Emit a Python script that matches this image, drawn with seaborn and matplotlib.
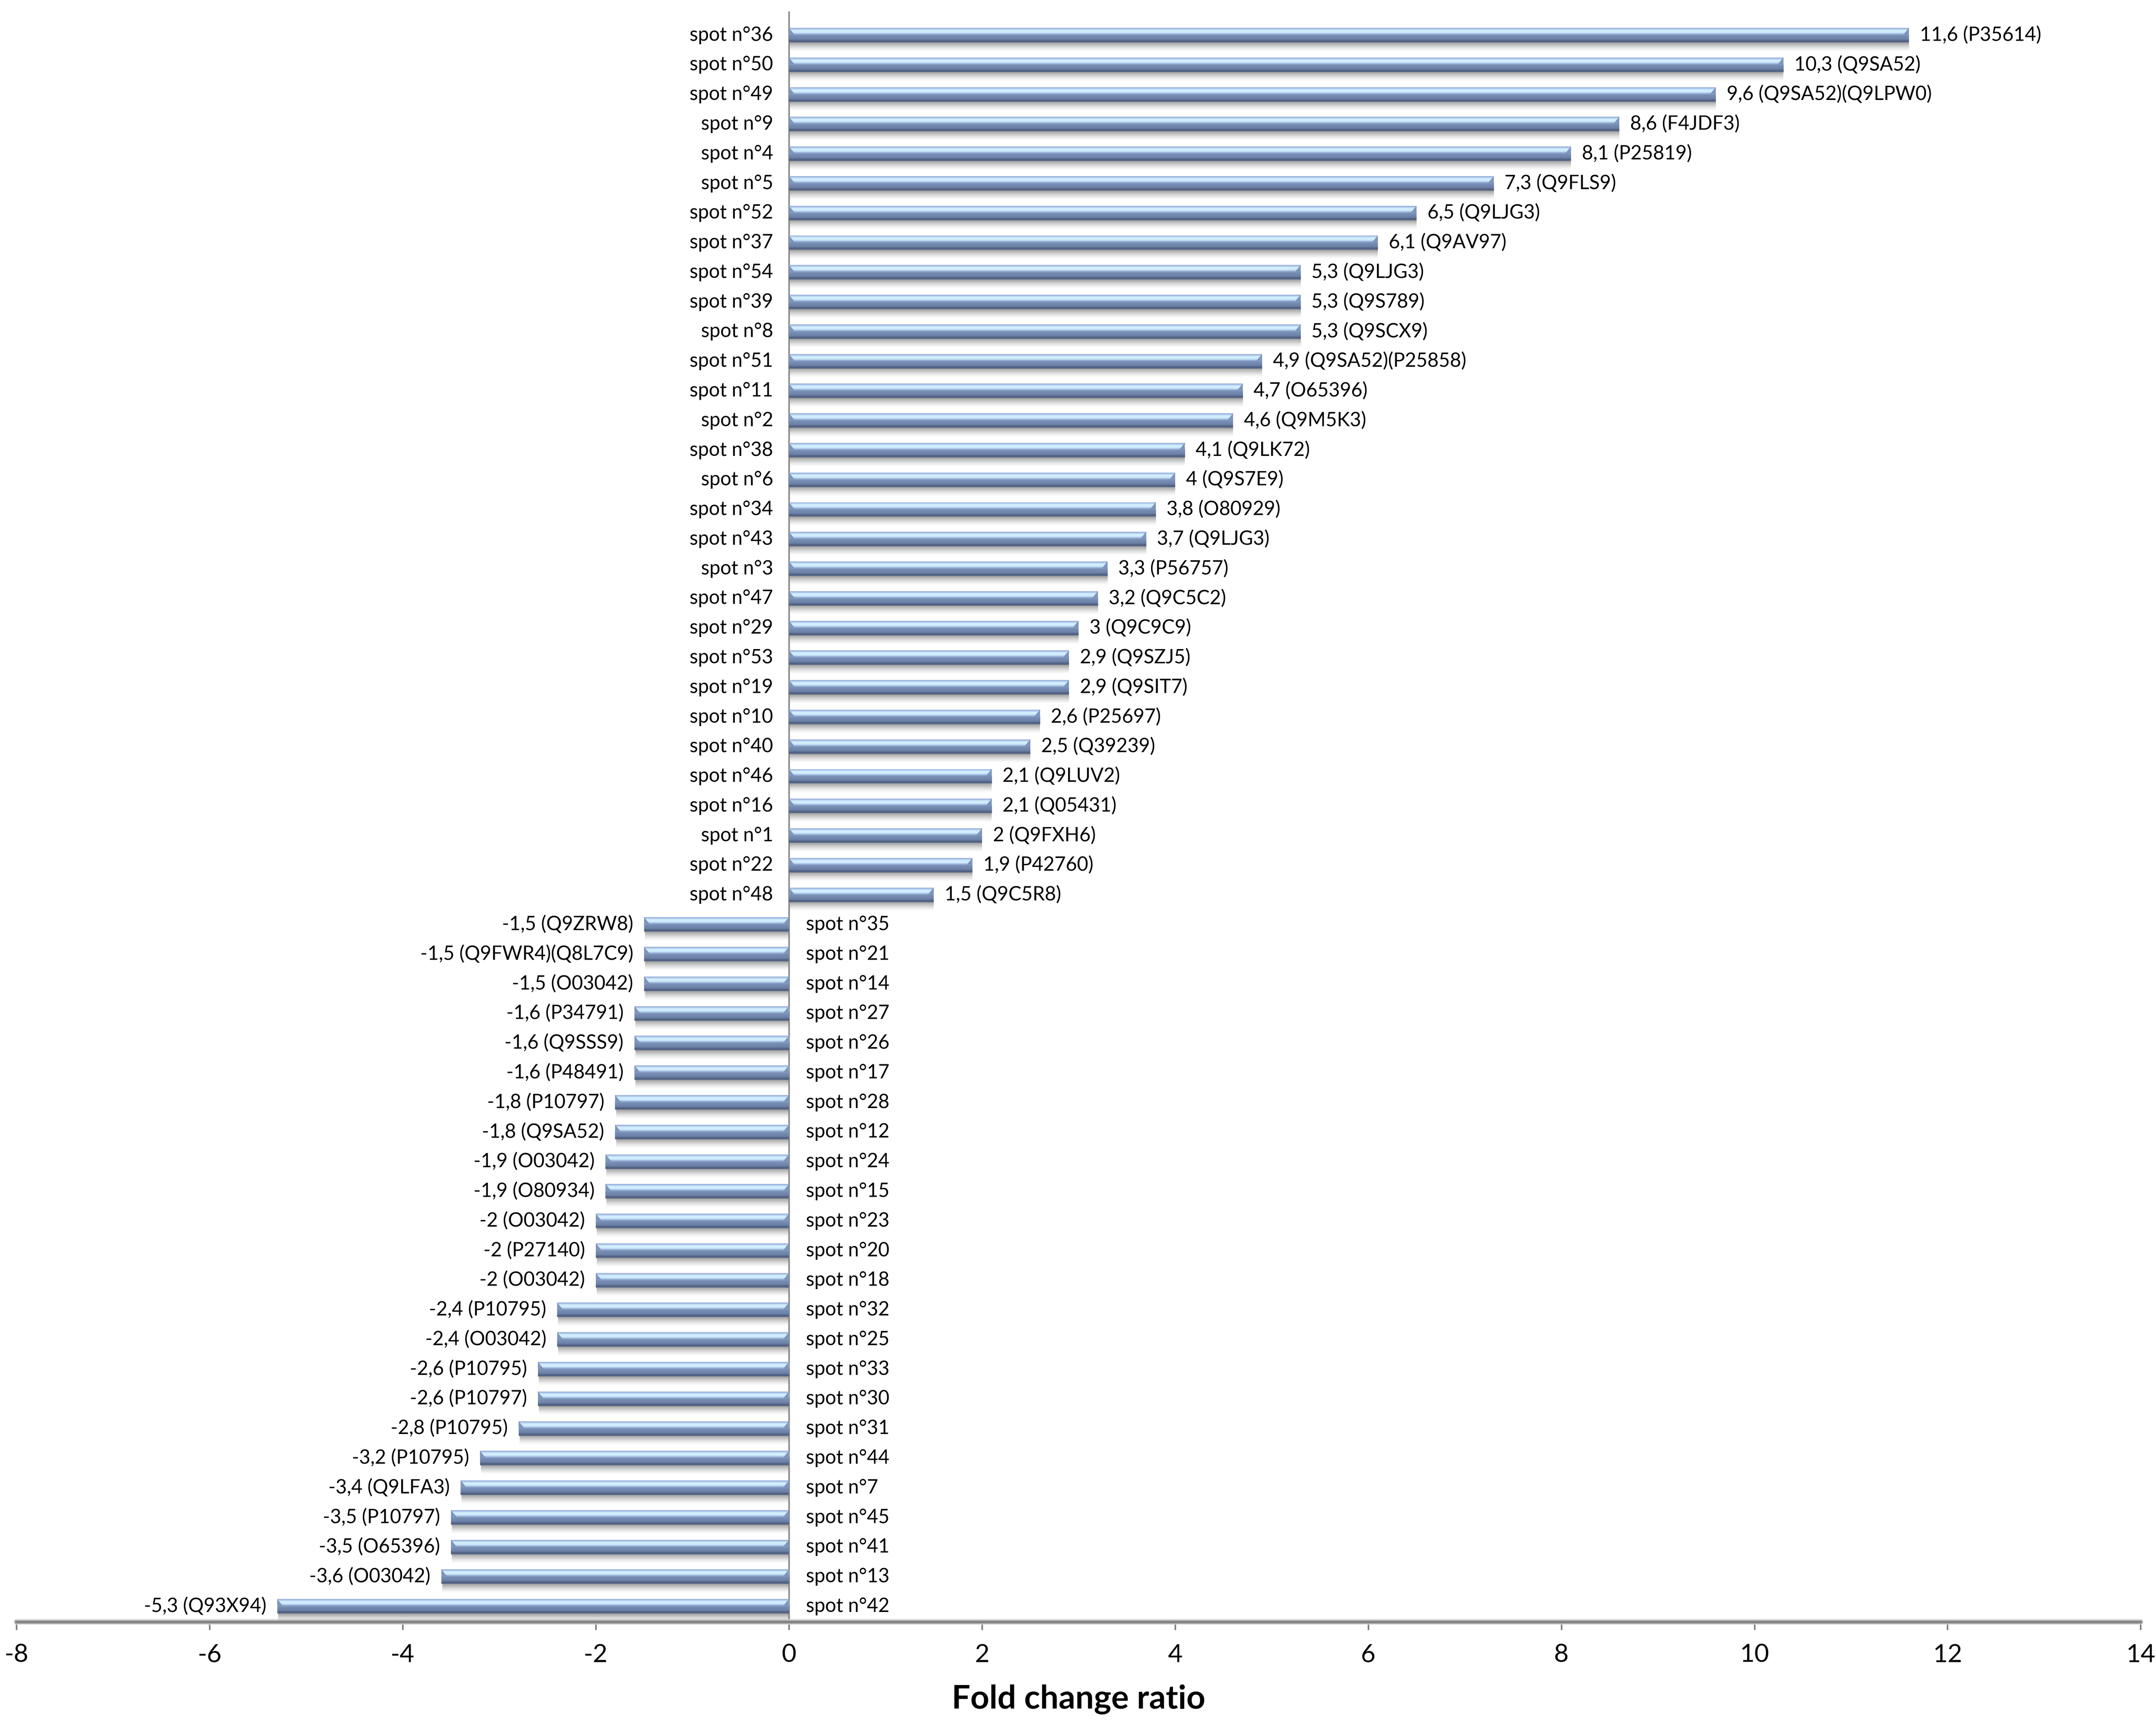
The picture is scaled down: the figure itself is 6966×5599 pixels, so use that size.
import numpy as np
import pandas as pd
import matplotlib
matplotlib.use("Agg")
import matplotlib.pyplot as plt
import seaborn as sns
from matplotlib.colors import LinearSegmentedColormap
from matplotlib.patches import Polygon

# ---------------- data ----------------
spots = [36, 50, 49, 9, 4, 5, 52, 37, 54, 39, 8, 51, 11, 2, 38, 6, 34, 43, 3, 47,
         29, 53, 19, 10, 40, 46, 16, 1, 22, 48,
         35, 21, 14, 27, 26, 17, 28, 12, 24, 15, 23, 20, 18, 32, 25, 33, 30, 31,
         44, 7, 45, 41, 13, 42]
fold = [11.6, 10.3, 9.6, 8.6, 8.1, 7.3, 6.5, 6.1, 5.3, 5.3, 5.3, 4.9, 4.7, 4.6, 4.1,
        4.0, 3.8, 3.7, 3.3, 3.2, 3.0, 2.9, 2.9, 2.6, 2.5, 2.1, 2.1, 2.0, 1.9, 1.5,
        -1.5, -1.5, -1.5, -1.6, -1.6, -1.6, -1.8, -1.8, -1.9, -1.9, -2.0, -2.0, -2.0,
        -2.4, -2.4, -2.6, -2.6, -2.8, -3.2, -3.4, -3.5, -3.5, -3.6, -5.3]
proteins = ["(P35614)", "(Q9SA52)", "(Q9SA52)(Q9LPW0)", "(F4JDF3)", "(P25819)",
            "(Q9FLS9)", "(Q9LJG3)", "(Q9AV97)", "(Q9LJG3)", "(Q9S789)", "(Q9SCX9)",
            "(Q9SA52)(P25858)", "(O65396)", "(Q9M5K3)", "(Q9LK72)", "(Q9S7E9)",
            "(O80929)", "(Q9LJG3)", "(P56757)", "(Q9C5C2)", "(Q9C9C9)", "(Q9SZJ5)",
            "(Q9SIT7)", "(P25697)", "(Q39239)", "(Q9LUV2)", "(Q05431)", "(Q9FXH6)",
            "(P42760)", "(Q9C5R8)",
            "(Q9ZRW8)", "(Q9FWR4)(Q8L7C9)", "(O03042)", "(P34791)", "(Q9SSS9)",
            "(P48491)", "(P10797)", "(Q9SA52)", "(O03042)", "(O80934)", "(O03042)",
            "(P27140)", "(O03042)", "(P10795)", "(O03042)", "(P10795)", "(P10797)",
            "(P10795)", "(P10795)", "(Q9LFA3)", "(P10797)", "(O65396)", "(O03042)",
            "(Q93X94)"]
xticks = [-8, -6, -4, -2, 0, 2, 4, 6, 8, 10, 12, 14]
xlabel = "Fold change ratio"


def fmt(v):
    s = ("%.1f" % v).rstrip("0").rstrip(".")
    return s.replace(".", ",")


# ---------------- style ----------------
sns.set_theme(style="white")
plt.rcParams["font.family"] = ["Lato", "DejaVu Sans"]

DPI = 525
fig = plt.figure(figsize=(7962 / 600, 6399 / 600), dpi=DPI)
ax = fig.add_axes([0.00766, 0.0642, 0.9851, 0.9291])

df = pd.DataFrame({"spot": ["spot n°%d" % s for s in spots], "fold": fold})
sns.barplot(data=df, x="fold", y="spot", orient="h", color="#7489b0",
            width=0.49, ax=ax, zorder=3, linewidth=0, edgecolor="none")

# gradient colormap for cylinder look
stops = [(0.00, "#8ea5cd"), (0.07, "#a8c2ea"), (0.18, "#d6f1ff"), (0.33, "#cbe9fd"),
         (0.44, "#93abd3"), (0.52, "#7a8fb5"), (0.78, "#6c81a7"), (0.90, "#4f5f7f"),
         (1.00, "#5d6d8c")]
cmap = LinearSegmentedColormap.from_list("cyl", stops)
grad = np.linspace(0, 1, 256).reshape(-1, 1)

shadow = np.ones((64, 1, 4))
shadow[..., :3] = 0.52
shadow[:, 0, 3] = np.linspace(0.85, 0.0, 64) ** 1.5

d = 0.06
for p in list(ax.patches):
    bb = p.get_bbox()
    x0, x1 = min(bb.x0, bb.x1), max(bb.x0, bb.x1)
    y0, y1 = min(bb.y0, bb.y1), max(bb.y0, bb.y1)
    h = y1 - y0
    im = ax.imshow(grad, cmap=cmap, extent=(x0, x1, y1, y0), aspect="auto",
                   interpolation="bicubic", zorder=4, origin="upper")
    im.set_clip_path(p)
    # drop shadow
    ax.imshow(shadow, extent=(x0 + 0.01, x1, y1 + 0.32, y1), aspect="auto",
              interpolation="bicubic", zorder=2, origin="upper")
    # bevels at both ends
    for end, sgn in ((x0, 1), (x1, -1)):
        tri = Polygon([(end, y0), (end + sgn * d, y0 + 0.48 * h), (end, y0 + 0.48 * h)],
                      closed=True, facecolor="#7f95bd", edgecolor="none", zorder=5)
        ax.add_patch(tri)

# labels
for i, (s, v, pr) in enumerate(zip(spots, fold, proteins)):
    name = "spot n°%d" % s
    val = "%s %s" % (fmt(v), pr)
    if v >= 0:
        ax.annotate(name, (0, i), xytext=(-7, 0), textcoords="offset points",
                    ha="right", va="center", fontsize=8.6, color="black", zorder=6)
        ax.annotate(val, (v, i), xytext=(4.8, 0), textcoords="offset points",
                    ha="left", va="center", fontsize=8.6, color="black", zorder=6)
    else:
        ax.annotate(name, (0, i), xytext=(7.5, 0), textcoords="offset points",
                    ha="left", va="center", fontsize=8.6, color="black", zorder=6)
        ax.annotate(val, (v, i), xytext=(-4.8, 0), textcoords="offset points",
                    ha="right", va="center", fontsize=8.6, color="black", zorder=6)

ax.axvline(0, color="#8c8c8c", lw=0.7, zorder=1)

ax.set_xlim(-8, 14)
ax.set_ylim(53.52, -0.795)
ax.set_xticks(xticks)
ax.set_xticklabels([str(t) for t in xticks])
ax.set_yticks([])
ax.set_ylabel("")
ax.set_xlabel(xlabel, fontsize=14.6, fontweight="bold", labelpad=8, color="black")

for sp in ("top", "right", "left"):
    ax.spines[sp].set_visible(False)
ax.spines["bottom"].set_color("#868686")
ax.spines["bottom"].set_linewidth(1.3)
ax.spines["bottom"].set_zorder(7)
ax.axhline(53.52, color="#d2d2d2", lw=2.4, zorder=1, clip_on=False)

ax.tick_params(axis="x", bottom=True, direction="out", length=3.6, width=0.7,
               color="#808080", labelsize=11.2, pad=6, labelcolor="black")

fig.savefig("out.png", dpi=DPI, facecolor="white")
